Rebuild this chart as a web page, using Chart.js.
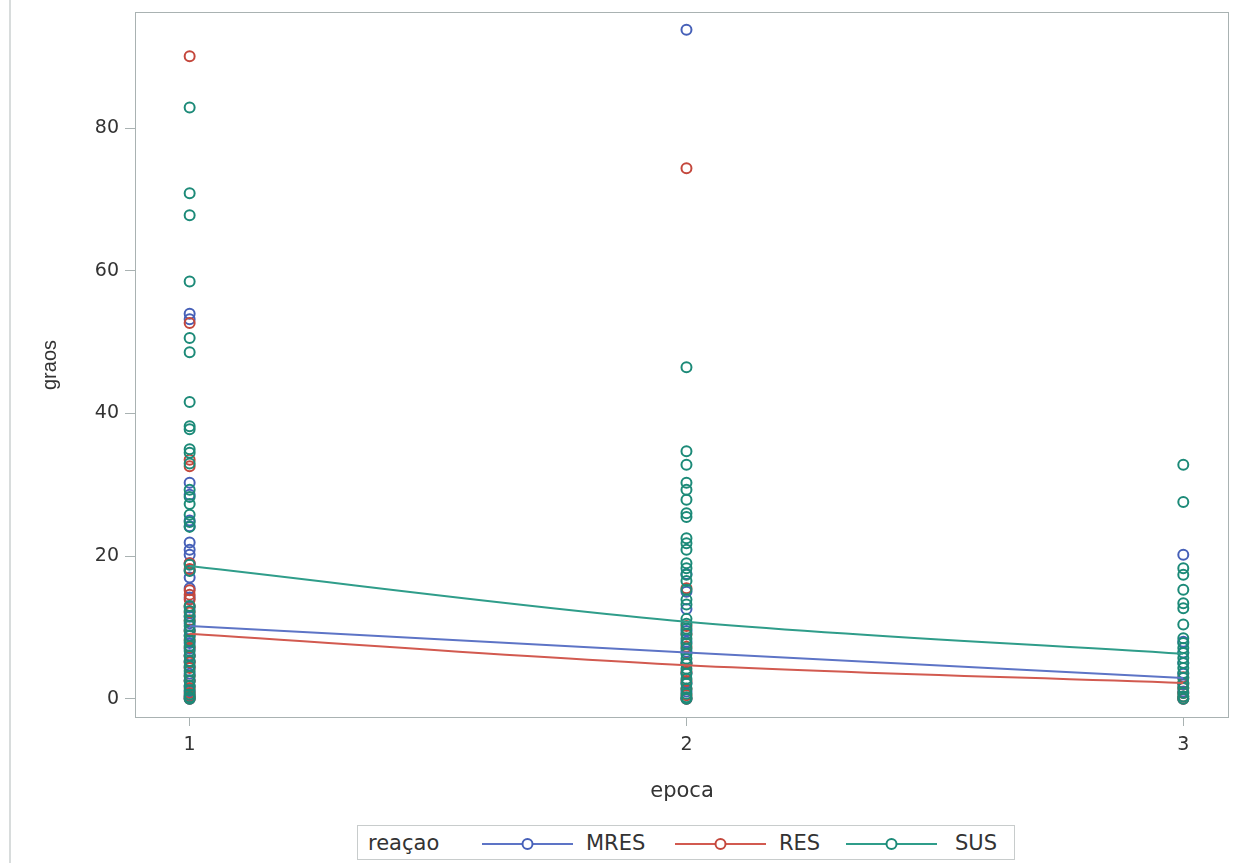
<!DOCTYPE html>
<html>
<head>
<meta charset="utf-8">
<script src="https://cdn.jsdelivr.net/npm/chart.js@4.4.1/dist/chart.umd.min.js"></script>
<style>
    html, body { margin: 0; padding: 0; background: #fff; }
    #wrap { position: relative; width: 1236px; height: 863px; overflow: hidden; }
    #edge { position: absolute; left: 9px; top: 0; width: 2px; height: 863px; background: #d8dcdc; }
    #legend {
        position: absolute; left: 357px; top: 825px; width: 658px; height: 35px;
        border: 1px solid #c8cccc; box-sizing: border-box; background: #fff;
        font-family: "DejaVu Sans", sans-serif; font-size: 21px; color: #333;
    }
    #legend span, #legend svg { position: absolute; top: 1px; line-height: 33px; }
    #legend svg { top: 11px; }
</style>
</head>
<body>
<div id="wrap">
    <canvas id="c" width="1236" height="863"></canvas>
    <div id="edge"></div>
    <div id="legend"></div>
</div>
<script>
const epocas = [ 1, 2, 3 ];
const yTicks = [ 0, 20, 40, 60, 80 ];
const legendTitle = 'reaçao';
const reacoes = [ 'MRES', 'RES', 'SUS' ];

// observed graos, by reacao and epoca
const mres1 = [ 54.0, 53.2, 30.3, 28.6, 25.0, 24.2, 21.9, 20.9, 20.2, 19.0, 18.0, 17.0, 15.5, 14.2, 12.8, 11.5, 10.6, 9.7, 8.9, 7.8, 7.0, 6.1, 5.2, 4.4, 3.5, 2.6, 1.8, 1.0, 0.4, 0 ];
const mres2 = [ 93.8, 17.5, 15.0, 12.6, 9.5, 8.0, 6.6, 5.0, 3.6, 2.2, 1.0, 0 ];
const mres3 = [ 20.2, 8.0, 6.5, 5.0, 3.5, 2.0, 1.0, 0 ];

const res1 = [ 90.1, 52.7, 33.5, 32.6, 19.0, 18.2, 15.2, 14.6, 13.9, 13.0, 12.1, 11.0, 9.5, 8.3, 7.2, 6.0, 5.1, 4.3, 3.2, 2.5, 1.5, 0.8, 0.3, 0 ];
const res2 = [ 74.4, 15.5, 10.2, 9.0, 7.3, 5.0, 3.8, 2.5, 1.4, 0.5, 0 ];
const res3 = [ 3.0, 2.2, 1.5, 0.8, 0.3, 0 ];

const sus1 = [ 82.9, 70.9, 67.8, 58.5, 50.6, 48.6, 41.6, 38.2, 37.8, 35.0, 34.5, 33.0, 29.3, 28.3, 27.3, 25.8, 24.8, 24.1, 18.8, 17.9, 13.0, 12.3, 11.6, 10.9, 10.2, 9.5, 8.8, 8.1, 7.4, 6.7, 6.0, 5.3, 4.6, 3.9, 3.2, 2.5, 1.8, 1.2, 0.6, 0.2, 0 ];
const sus2 = [ 46.5, 34.7, 32.8, 30.3, 29.3, 27.9, 26.0, 25.5, 22.5, 21.8, 20.9, 19.0, 18.3, 17.4, 16.5, 15.3, 13.9, 13.2, 11.2, 10.5, 9.8, 9.1, 8.4, 7.7, 7.0, 6.3, 5.6, 4.9, 4.2, 3.5, 2.8, 2.1, 1.4, 0.7, 0.2, 0 ];
const sus3 = [ 32.8, 27.6, 18.3, 17.4, 15.3, 13.4, 12.7, 10.4, 8.5, 7.8, 7.1, 6.4, 5.7, 5.0, 4.3, 3.6, 2.9, 2.2, 1.5, 0.8, 0.3, 0 ];

// fitted means per epoca
const fitMres = [ 10.2, 6.5, 2.9 ];
const fitRes  = [ 9.1, 4.7, 2.2 ];
const fitSus  = [ 18.6, 10.8, 6.3 ];

const MARK = { MRES: '#4660b8', RES: '#c4473c', SUS: '#1c8a78' };
const LINE = { MRES: '#5d74c6', RES: '#d25a50', SUS: '#2f9d8a' };

const pts = ( groups ) => groups.flatMap( ( vals, i ) => vals.map( ( v ) => ( { x: epocas[ i ], y: v } ) ) );
const fit = ( vals ) => vals.map( ( v, i ) => ( { x: epocas[ i ], y: v } ) );

const series = {
    MRES: { obs: [ mres1, mres2, mres3 ], fit: fitMres, order: 3 },
    RES:  { obs: [ res1, res2, res3 ],    fit: fitRes,  order: 2 },
    SUS:  { obs: [ sus1, sus2, sus3 ],    fit: fitSus,  order: 1 },
};

const datasets = [];
reacoes.forEach( ( r ) => {
    const s = series[ r ];
    datasets.push( {
        label: r,
        data: pts( s.obs ),
        order: s.order + 3,
        showLine: false,
        pointRadius: 5,
        pointHoverRadius: 5,
        pointBorderWidth: 2,
        pointBackgroundColor: 'rgba(0,0,0,0)',
        pointBorderColor: MARK[ r ],
    } );
    datasets.push( {
        label: r + ' fit',
        data: fit( s.fit ),
        order: s.order,
        showLine: true,
        borderColor: LINE[ r ],
        borderWidth: 2,
        pointRadius: 0,
        cubicInterpolationMode: 'monotone',
    } );
} );

const frame = {
    id: 'frame',
    afterDraw( chart ) {
        const { ctx, chartArea: a } = chart;
        ctx.save();
        ctx.strokeStyle = '#a9b2b2';
        ctx.lineWidth = 1;
        ctx.strokeRect( a.left + 0.5, a.top + 0.5, a.right - a.left - 1, a.bottom - a.top - 1 );
        ctx.restore();
    },
};

const TICKFONT = { family: '"DejaVu Sans", sans-serif', size: 19 };
const XTITLE   = { family: '"DejaVu Sans", sans-serif', size: 21 };
const YTITLE   = { family: '"Liberation Sans", Arial, sans-serif', size: 20 };

new Chart( document.getElementById( 'c' ), {
    type: 'scatter',
    data: { datasets },
    options: {
        responsive: false,
        animation: false,
        layout: { padding: { left: 38, top: 12, right: 7, bottom: 59 } },
        plugins: { legend: { display: false }, tooltip: { enabled: false } },
        scales: {
            x: {
                type: 'linear',
                min: 0.89,
                max: 3.092,
                afterBuildTicks: ( s ) => { s.ticks = epocas.map( ( v ) => ( { value: v } ) ); },
                afterFit: ( s ) => { s.height = 86; },
                grid: { drawOnChartArea: false, drawTicks: true, tickLength: 8, color: '#a9b2b2' },
                border: { display: false },
                ticks: { font: TICKFONT, color: '#333', padding: 8, callback: ( v ) => v },
                title: { display: true, text: 'epoca', font: XTITLE, color: '#333', padding: { top: 4, bottom: 0 } },
            },
            y: {
                type: 'linear',
                min: -2.7,
                max: 96.3,
                afterBuildTicks: ( s ) => { s.ticks = yTicks.map( ( v ) => ( { value: v } ) ); },
                afterFit: ( s ) => { s.width = 97; s.paddingTop = 0; s.paddingBottom = 0; },
                grid: { drawOnChartArea: false, drawTicks: true, tickLength: 10, color: '#a9b2b2' },
                border: { display: false },
                ticks: { font: TICKFONT, color: '#333', padding: 6, callback: ( v ) => v },
                title: { display: true, text: 'graos', font: YTITLE, color: '#333', padding: 0 },
            },
        },
    },
    plugins: [ frame ],
} );

// legend: reacao title then line-with-circle symbols, placed like the original
const leg = document.getElementById( 'legend' );
const add = ( html, left ) => {
    const tmp = document.createElement( 'div' );
    tmp.innerHTML = html;
    const el = tmp.firstChild;
    el.style.left = left + 'px';
    leg.appendChild( el );
};
add( `<span>${ legendTitle }</span>`, 10 );
const symLeft = [ 124, 317, 488 ];
const txtLeft = [ 228, 421, 597 ];
reacoes.forEach( ( r, i ) => {
    add(
        `<svg width="91" height="14"><line x1="0" y1="7" x2="91" y2="7" stroke="${ LINE[ r ] }" stroke-width="2"/>` +
        `<circle cx="45.5" cy="7" r="5" fill="#fff" stroke="${ MARK[ r ] }" stroke-width="2"/></svg>`,
        symLeft[ i ]
    );
    add( `<span>${ r }</span>`, txtLeft[ i ] );
} );
</script>
</body>
</html>
